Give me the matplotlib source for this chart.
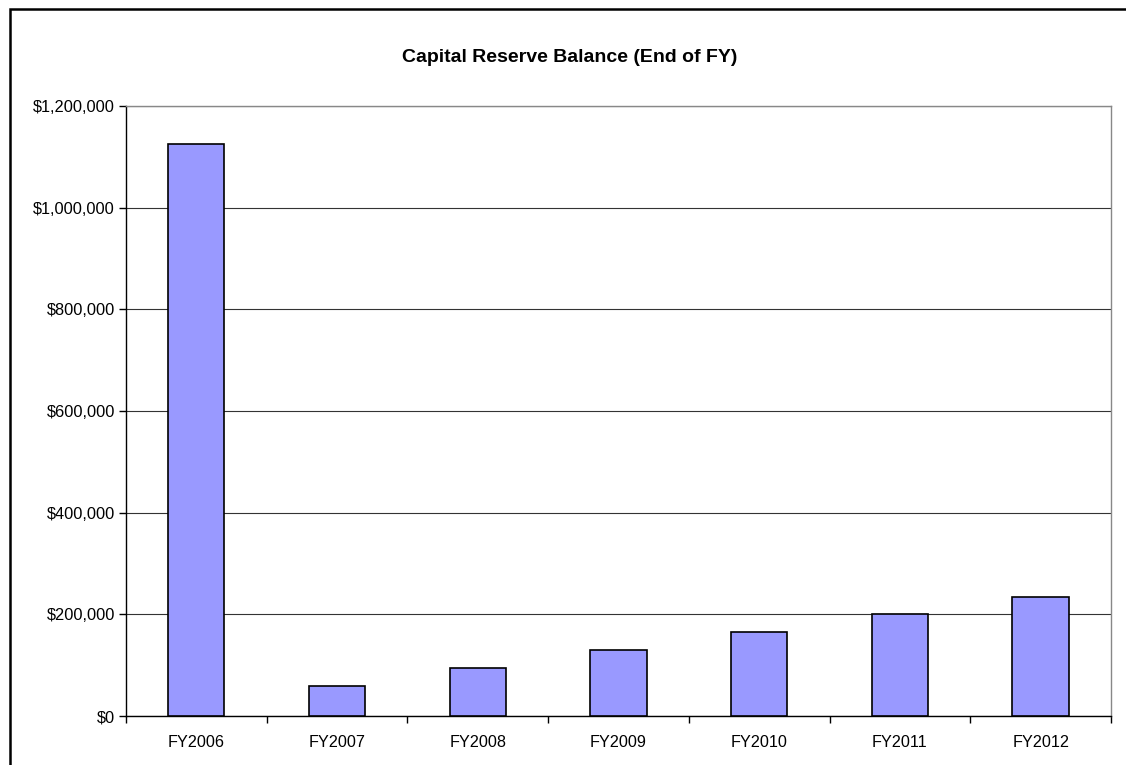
import matplotlib.pyplot as plt
from matplotlib.patches import Rectangle
from matplotlib.ticker import FuncFormatter, MultipleLocator

plt.rcParams['font.family'] = ['Liberation Sans', 'DejaVu Sans']

years = ['FY2006', 'FY2007', 'FY2008', 'FY2009', 'FY2010', 'FY2011', 'FY2012']
balance = [1125000, 60000, 95000, 130000, 165000, 200000, 235000]

fig = plt.figure(figsize=(11.26, 7.65), dpi=100)
ax = fig.add_axes([126 / 1126, 49 / 765, 985 / 1126, 610 / 765])

# outer chart frame (runs off the right and bottom edges)
fig.patches.append(Rectangle((10 / 1126, -0.05), 1.2, 1 - 9 / 765 + 0.05,
                             transform=fig.transFigure, fill=False,
                             edgecolor='black', linewidth=1.8, zorder=0))

x = range(len(years))
ax.bar(x, balance, width=0.4, color='#9999FF', edgecolor='black', linewidth=1.2, zorder=3)

ax.set_xlim(-0.5, len(years) - 0.5)
ax.set_ylim(0, 1200000)
ax.yaxis.set_major_locator(MultipleLocator(200000))
ax.yaxis.set_major_formatter(FuncFormatter(lambda v, p: f'${v:,.0f}'))
ax.grid(axis='y', color='#333333', linewidth=0.8, zorder=0)

ax.set_xticks(list(x))
ax.set_xticklabels(years)
ax.set_xticks([i - 0.5 for i in range(len(years) + 1)], minor=True)
ax.tick_params(axis='x', which='major', length=0, pad=14, labelsize=11.7)
ax.tick_params(axis='x', which='minor', length=5, width=1, direction='out')
ax.tick_params(axis='y', length=5, width=1, direction='out', labelsize=11.8, pad=3)

ax.spines['left'].set_color('black')
ax.spines['bottom'].set_color('black')
ax.spines['top'].set_color('#888888')
ax.spines['right'].set_color('#888888')
for s in ax.spines.values():
    s.set_linewidth(1)

fig.text(570 / 1126, 1 - 57 / 765, 'Capital Reserve Balance (End of FY)', ha='center', va='center',
         fontsize=14, fontweight='bold')

fig.savefig('out.png', dpi=100)
